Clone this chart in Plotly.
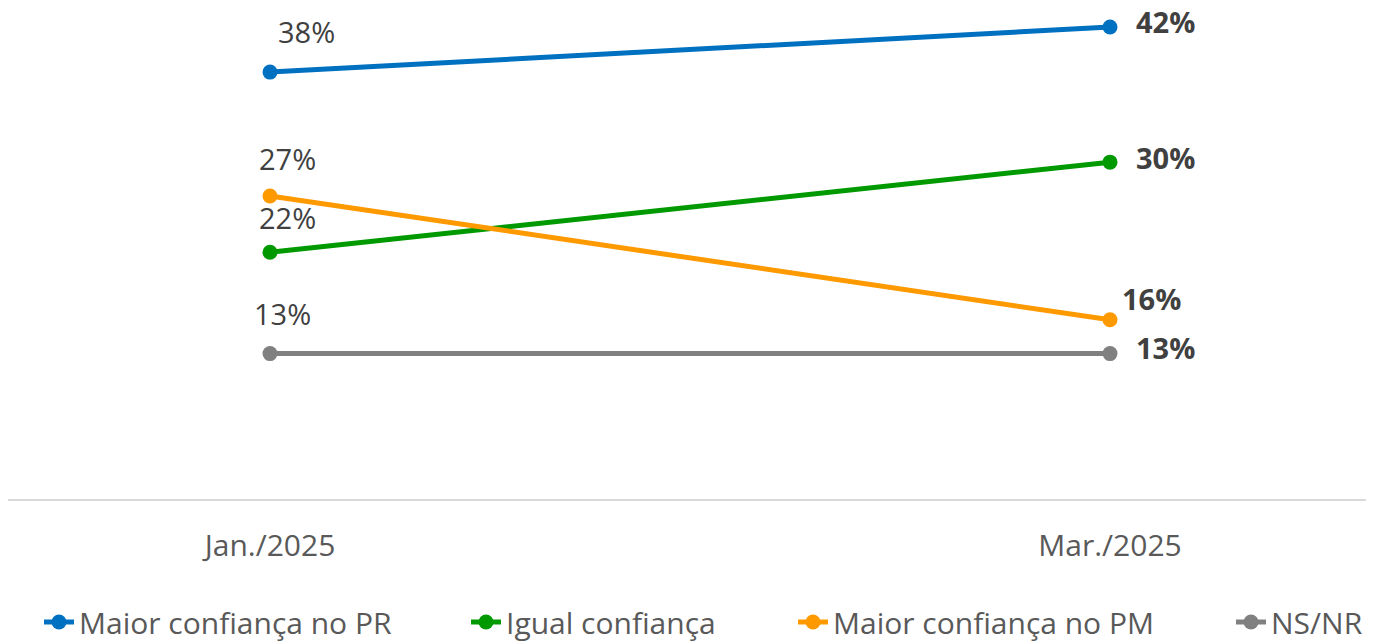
import plotly.graph_objects as go

# ------------------------------------------------------------------ data

PERIODS = ["Jan./2025", "Mar./2025"]

SERIES = ["Maior confiança no PR", "Igual confiança", "Maior confiança no PM", "NS/NR"]
JAN = [38, 22, 27, 13]
MAR = [42, 30, 16, 13]

COLORS = ["#0070C0", "#009A00", "#FF9900", "#808080"]

# label offsets (px) picked to sit where the original labels sit
JAN_SHIFT = [(36, 41), (17, 35), (17, 37), (12, 40)]
MAR_SHIFT = [(55, 6), (55, 5), (41, 21), (55, 6)]
# left edge of each legend entry (px in figure)
LEGEND_X = [31, 458, 785, 1223]

FONT = "Open Sans, Noto Sans, sans-serif"
W, H = 1366, 636
JAN_PX, MAR_PX = 262, 1102

# ------------------------------------------------------------------ chart

fig = go.Figure()
annotations = []
legends = {}
for i, name in enumerate(SERIES):
    key = "legend" if i == 0 else f"legend{i + 1}"
    fig.add_trace(go.Scatter(
        x=[0, 1],
        y=[JAN[i], MAR[i]],
        name=name,
        legend=key,
        mode="lines+markers",
        line=dict(color=COLORS[i], width=5),
        marker=dict(color=COLORS[i], size=15),
        hoverinfo="skip",
    ))
    legends[key] = dict(
        orientation="h",
        xref="container", yref="container",
        x=LEGEND_X[i] / W, xanchor="left",
        y=1 - 614 / H, yanchor="middle",
        font=dict(family=FONT, size=30, color="#595959"),
        bgcolor="rgba(0,0,0,0)",
    )
    annotations.append(dict(
        x=0, y=JAN[i], xref="x", yref="y", text=f"{JAN[i]}%", showarrow=False,
        xshift=JAN_SHIFT[i][0], yshift=JAN_SHIFT[i][1],
        font=dict(family=FONT, size=29, color="#404040"),
    ))
    annotations.append(dict(
        x=1, y=MAR[i], xref="x", yref="y", text=f"<b>{MAR[i]}%</b>", showarrow=False,
        xshift=MAR_SHIFT[i][0], yshift=MAR_SHIFT[i][1],
        font=dict(family=FONT, size=29, color="#404040"),
    ))

span = MAR_PX - JAN_PX
fig.update_layout(
    width=W,
    height=H,
    margin=dict(l=0, r=0, t=0, b=144),
    paper_bgcolor="white",
    plot_bgcolor="white",
    font=dict(family=FONT, size=30, color="#595959"),
    annotations=annotations,
    showlegend=True,
    xaxis=dict(
        range=[-JAN_PX / span, (W - JAN_PX) / span],
        tickvals=[0, 1],
        ticktext=PERIODS,
        showgrid=False,
        zeroline=False,
        showline=False,
        ticklabelstandoff=25,
        tickfont=dict(family=FONT, size=30, color="#595959"),
    ),
    yaxis=dict(
        range=[0, 43.69],
        showgrid=False,
        zeroline=True,
        zerolinecolor="#D9D9D9",
        zerolinewidth=2,
        showticklabels=False,
    ),
    **legends,
)

fig.write_html("out.html")
